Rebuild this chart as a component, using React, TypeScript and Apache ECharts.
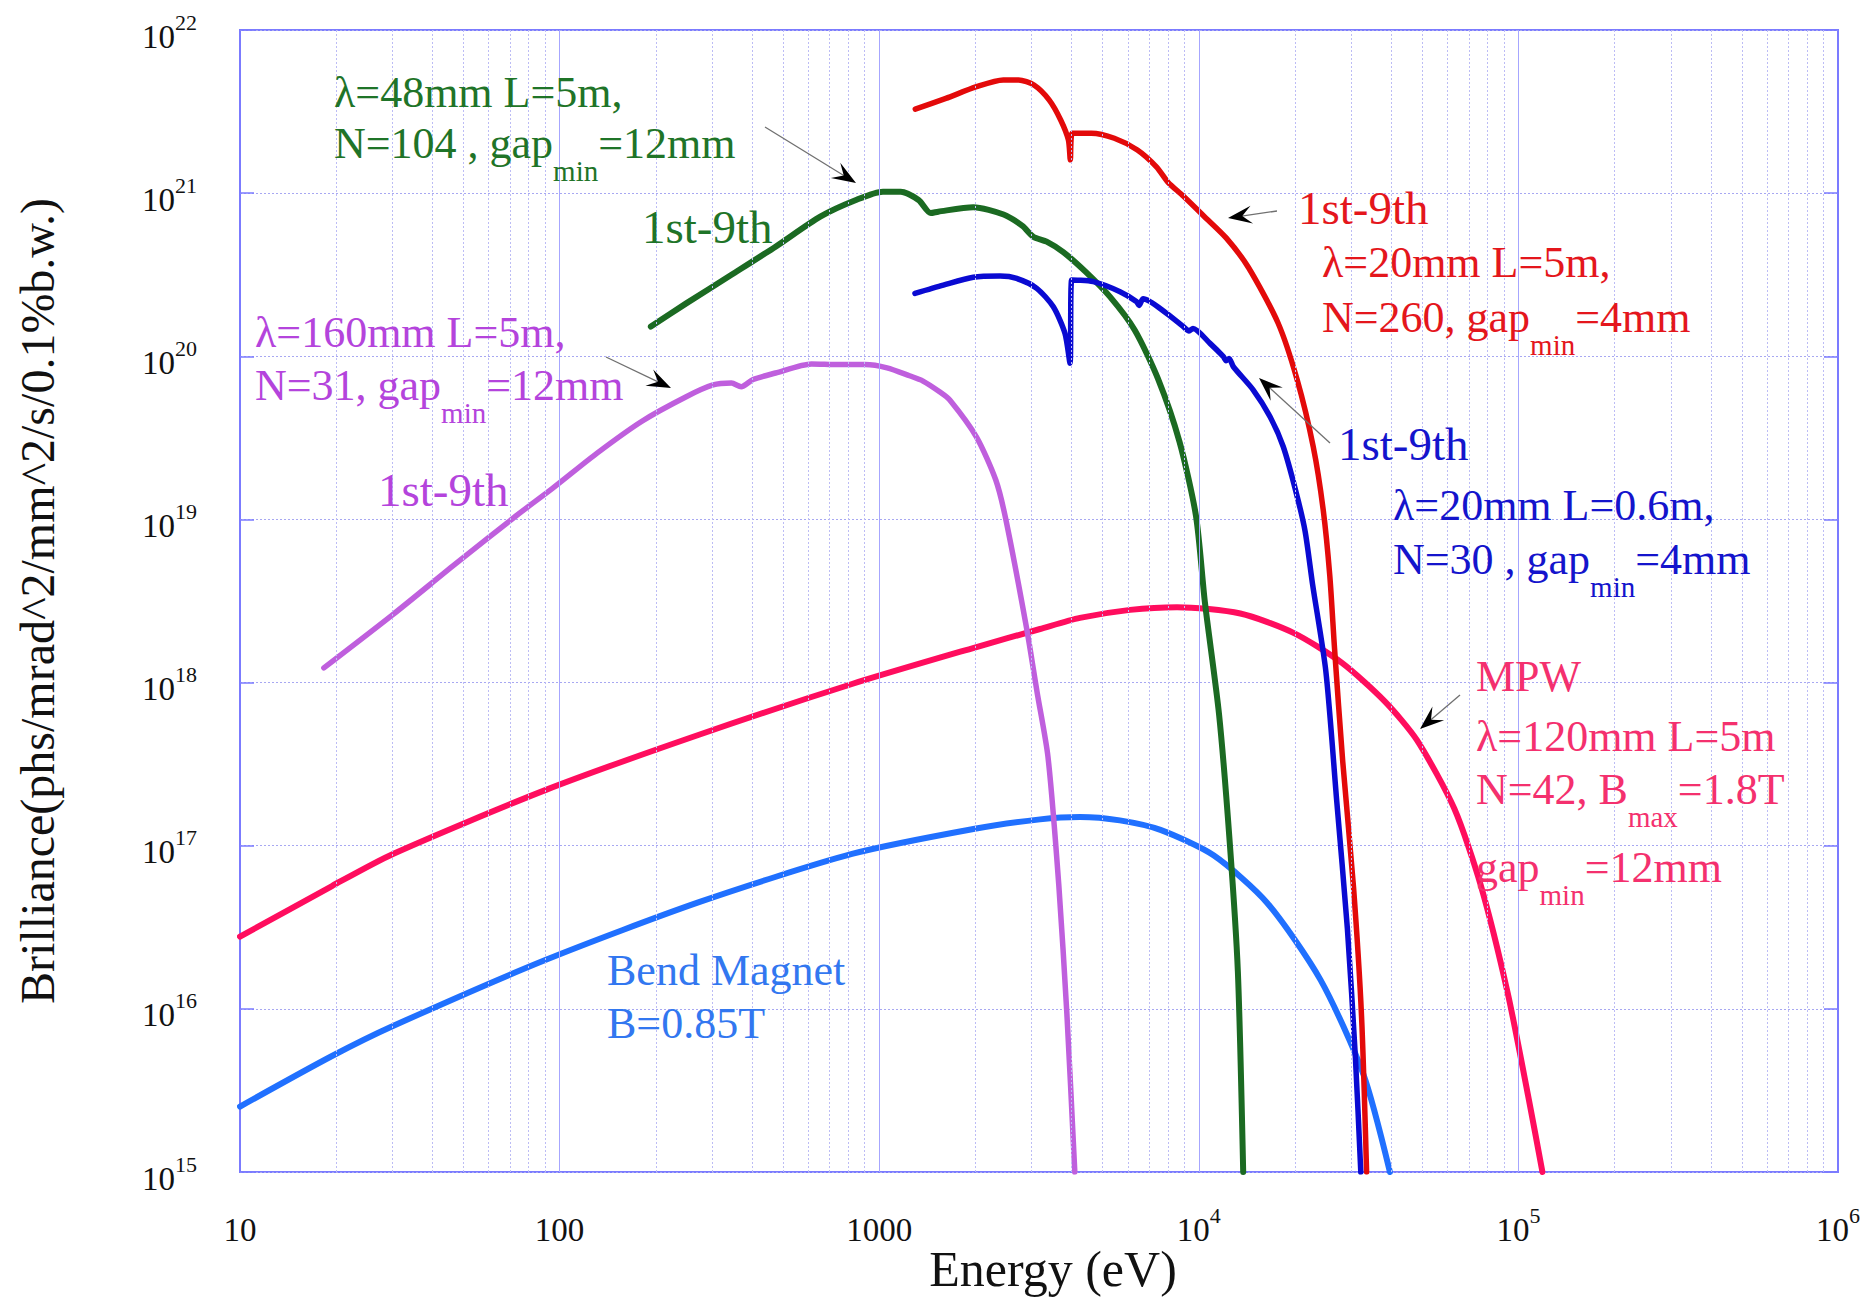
import React, { useEffect, useRef } from 'react';
import * as echarts from 'echarts';

type Pt = [number, number];

const FONT = '"Liberation Serif", "Times New Roman", serif';

// axis range (eV, brilliance)
const X_MIN = 10;
const X_MAX = 1e6;
const Y_MIN = 1e15;
const Y_MAX = 1e22;

// grid positions
const majorX = [100, 1000, 1e4, 1e5];
const minorDecades = [10, 100, 1000, 1e4, 1e5];
const minorMultipliers = [2, 3, 4, 5, 6, 7, 8, 9];

// lambda = 160 mm, L = 5 m, N = 31 (purple)
const und160: Pt[] = [
  [18.3, 1.23e18], [30, 2.6e18], [47, 5.3e18], [73, 1.05e19], [95, 1.55e19], [131, 2.55e19],
  [181, 4.0e19], [249, 5.65e19], [302, 6.67e19], [345, 6.85e19], [370, 6.5e19], [403, 7.2e19],
  [474, 7.9e19], [614, 8.98e19], [743, 8.9e19], [903, 8.9e19], [1058, 8.5e19], [1244, 7.6e19],
  [1371, 7.05e19], [1549, 6.04e19], [1663, 5.4e19], [2016, 3.2e19], [2315, 1.75e19], [2490, 1.0e19],
  [2894, 2.14e18], [3120, 8.7e17], [3374, 3.5e17], [3648, 5.7e16], [3866, 9.3e15], [4093, 1e15],
];

// lambda = 48 mm, L = 5 m, N = 104 (green)
const und48: Pt[] = [
  [193, 1.52e20], [249, 2.11e20], [344, 3.15e20], [474, 4.7e20], [654, 7.18e20], [846, 9.08e20],
  [1027, 1.02e21], [1167, 1.02e21], [1328, 9.08e20], [1450, 7.55e20], [1531, 7.7e20], [1970, 8.2e20],
  [2450, 7.4e20], [2806, 6.3e20], [3034, 5.41e20], [3342, 5.04e20], [3767, 4.35e20], [4420, 3.3e20],
  [5270, 2.32e20], [6300, 1.45e20], [7450, 7.3e19], [8700, 3.0e19], [9800, 1.05e19], [10450, 3.1e18],
  [11570, 6.4e17], [12500, 1.04e17], [13250, 1.7e16], [13770, 1e15],
];

// lambda = 20 mm, L = 5 m, N = 260 (red)
const und20L5: Pt[] = [
  [1297, 3.27e21], [1617, 3.81e21], [2016, 4.49e21], [2445, 4.94e21], [2729, 4.94e21], [3049, 4.6e21],
  [3405, 3.72e21], [3697, 2.81e21], [3908, 2.12e21], [3963, 1.6e21], [4018, 2.33e21], [4610, 2.33e21],
  [5441, 2.17e21], [6424, 1.84e21], [7370, 1.45e21], [8000, 1.17e21], [8940, 9.6e20], [10400, 7.2e20],
  [12200, 5.3e20], [14300, 3.5e20], [17700, 1.6e20], [20300, 7.2e19], [22800, 2.8e19], [24500, 1.15e19],
  [25700, 4.5e18], [26600, 1.6e18], [28200, 3.3e17], [30500, 5.5e16], [32300, 9e15], [33500, 1e15],
];

// lambda = 20 mm, L = 0.6 m, N = 30 (blue)
const und20L06: Pt[] = [
  [1294, 2.43e20], [1587, 2.73e20], [1970, 3.05e20], [2388, 3.1e20], [2692, 3.0e20], [3111, 2.61e20],
  [3506, 2.01e20], [3814, 1.38e20], [3954, 9.06e19], [4003, 2.94e20], [4677, 2.87e20], [5669, 2.49e20],
  [6393, 2.16e20], [6500, 2.05e20], [6700, 2.25e20], [7936, 1.83e20], [8945, 1.52e20], [9320, 1.43e20],
  [9590, 1.48e20], [10840, 1.2e20], [11940, 9.94e19], [12170, 9.4e19], [12440, 9.7e19], [12830, 8.63e19],
  [14810, 6.21e19], [16710, 4.26e19], [18380, 2.79e19], [20100, 1.5e19], [21500, 8.5e18], [22700, 4e18],
  [24980, 1.17e18], [27000, 1.9e17], [29170, 3.1e16], [30890, 5.1e15], [32130, 1e15],
];

// multipole wiggler (crimson)
const mpw: Pt[] = [
  [10, 2.77e16], [19.4, 5.66e16], [30.1, 8.9e16], [90.6, 2.2e17], [273, 4.79e17], [822, 9.8e17],
  [1991, 1.64e18], [3186, 2.13e18], [4246, 2.49e18], [6095, 2.79e18], [8550, 2.9e18], [13490, 2.65e18],
  [19850, 2.01e18], [28050, 1.32e18], [38190, 7.67e17], [48100, 4.45e17], [63000, 1.69e17], [76300, 5.7e16],
  [92600, 1.25e16], [107900, 2.76e15], [118900, 1e15],
];

// bend magnet (light blue)
const bendMagnet: Pt[] = [
  [10, 2.52e15], [19.4, 5.14e15], [30.1, 7.85e15], [90.6, 2.0e16], [273, 4.51e16], [822, 8.9e16],
  [1991, 1.27e17], [3186, 1.45e17], [4246, 1.5e17], [5662, 1.43e17], [7586, 1.25e17], [11150, 8.7e16],
  [16370, 4.46e16], [24060, 1.5e16], [32730, 3.97e15], [39630, 1e15],
];

const C_PURPLE = '#bf5fdd';
const C_GREEN = '#1b6a22';
const C_RED = '#e30a0a';
const C_BLUE = '#0a0ad2';
const C_MPW = '#ff0d5e';
const C_BM = '#2070ff';

const T_PURPLE = '#b444dc';
const T_GREEN = '#1f7428';
const T_RED = '#e4161c';
const T_BLUE = '#1414cc';
const T_MPW = '#f4306e';
const T_BM = '#3277f0';

const annotRich = {
  a: { fontSize: 44, lineHeight: 44, verticalAlign: 'top', fontFamily: FONT },
  s: { fontSize: 29, lineHeight: 64, verticalAlign: 'bottom', fontFamily: FONT },
  h: { fontSize: 47, lineHeight: 47, verticalAlign: 'top', fontFamily: FONT },
};

function txt(x: number, y: number, text: string, color: string) {
  const rich: any = {};
  Object.keys(annotRich).forEach((k) => {
    rich[k] = { ...(annotRich as any)[k], fill: color };
  });
  return {
    type: 'text',
    x,
    y,
    z: 20,
    silent: true,
    style: {
      text,
      fill: color,
      fontFamily: FONT,
      fontSize: 44,
      align: 'left',
      verticalAlign: 'top',
      rich,
    },
  };
}

function arrow(x1: number, y1: number, x2: number, y2: number) {
  const dx = x2 - x1;
  const dy = y2 - y1;
  const len = Math.sqrt(dx * dx + dy * dy);
  const ux = dx / len;
  const uy = dy / len;
  const nx = -uy;
  const ny = ux;
  const L = 24;
  const W = 9;
  return [
    {
      type: 'line',
      z: 19,
      silent: true,
      shape: { x1, y1, x2: x2 - ux * 12, y2: y2 - uy * 12 },
      style: { stroke: '#707070', lineWidth: 1.3 },
    },
    {
      type: 'polygon',
      z: 19,
      silent: true,
      shape: {
        points: [
          [x2, y2],
          [x2 - ux * L + nx * W, y2 - uy * L + ny * W],
          [x2 - ux * L * 0.6, y2 - uy * L * 0.6],
          [x2 - ux * L - nx * W, y2 - uy * L - ny * W],
        ],
      },
      style: { fill: '#000' },
    },
  ];
}

function curve(name: string, data: Pt[], color: string, width: number) {
  return {
    type: 'line',
    name,
    data,
    showSymbol: false,
    symbol: 'none',
    smooth: 0.25,
    silent: true,
    z: 3,
    lineStyle: { color, width, cap: 'round', join: 'round' },
  };
}

function gridLines(name: string, values: number[], color: string, type: any) {
  return {
    type: 'line',
    name,
    data: [[X_MIN, Y_MIN]],
    symbol: 'none',
    silent: true,
    z: 1,
    lineStyle: { width: 0, opacity: 0 },
    markLine: {
      silent: true,
      animation: false,
      symbol: ['none', 'none'],
      label: { show: false },
      emphasis: { disabled: true },
      lineStyle: { color, width: 1, type },
      data: values.map((v) => ({ xAxis: v })),
    },
  };
}

const tickRich = {
  b: { fontSize: 33, lineHeight: 46, verticalAlign: 'bottom', fontFamily: FONT, color: '#111' },
  s: { fontSize: 22, lineHeight: 22, padding: [4, 0, 0, 0], verticalAlign: 'top', fontFamily: FONT, color: '#111' },
};

export default function App() {
  const ref = useRef<HTMLDivElement>(null);

  useEffect(() => {
    if (!ref.current) return;
    const chart = echarts.init(ref.current, undefined, { renderer: 'svg' });

    const minorX: number[] = [];
    minorDecades.forEach((d) => minorMultipliers.forEach((m) => minorX.push(d * m)));

    const option: any = {
      animation: false,
      backgroundColor: '#ffffff',
      textStyle: { fontFamily: FONT },
      tooltip: { show: false },
      axisPointer: { show: false },
      grid: {
        left: 240,
        right: 27,
        top: 30,
        bottom: 129,
        containLabel: false,
        outerBoundsMode: 'none',
        show: true,
        borderColor: '#7b7bff',
        borderWidth: 2,
        backgroundColor: 'transparent',
      },
      xAxis: [
        {
          type: 'log',
          logBase: 10,
          min: X_MIN,
          max: X_MAX,
          splitNumber: 5,
          name: 'Energy (eV)',
          nameLocation: 'middle',
          nameGap: 97,
          nameMoveOverlap: false,
          nameTextStyle: {
            fontFamily: FONT,
            fontSize: 50,
            lineHeight: 50,
            color: '#111',
            verticalAlign: 'middle',
            padding: [0, 0, 0, 28],
          },
          axisLine: { show: false },
          axisTick: { show: false },
          axisPointer: { show: false },
          splitLine: { show: false },
          axisLabel: {
            margin: 28,
            showMinLabel: true,
            showMaxLabel: true,
            formatter: (v: number) => {
              const e = Math.round(Math.log10(v));
              return e < 4 ? `{b|${Math.round(v)}}` : `{b|10}{s|${e}}`;
            },
            rich: tickRich,
          },
        },
      ],
      yAxis: [
        {
          type: 'log',
          logBase: 10,
          min: Y_MIN,
          max: Y_MAX,
          splitNumber: 7,
          name: 'Brilliance(phs/mrad^2/mm^2/s/0.1%b.w.)',
          nameLocation: 'middle',
          nameGap: 203,
          nameMoveOverlap: false,
          nameTextStyle: { fontFamily: FONT, fontSize: 48, color: '#111', verticalAlign: 'middle' },
          axisLine: { show: false },
          axisPointer: { show: false },
          axisTick: { show: true, inside: true, length: 14, lineStyle: { color: '#7b7bff', width: 1.5 } },
          splitLine: { show: true, lineStyle: { color: '#a8a8f2', width: 1, type: [2, 2] } },
          axisLabel: {
            margin: 43,
            showMinLabel: true,
            showMaxLabel: true,
            formatter: (v: number) => `{b|10}{s|${Math.round(Math.log10(v))}}`,
            rich: tickRich,
          },
        },
        {
          type: 'log',
          logBase: 10,
          min: Y_MIN,
          max: Y_MAX,
          splitNumber: 7,
          position: 'right',
          axisLine: { show: false },
          axisLabel: { show: false },
          splitLine: { show: false },
          axisPointer: { show: false },
          axisTick: { show: true, inside: true, length: 14, lineStyle: { color: '#7b7bff', width: 1.5 } },
        },
      ],
      series: [
        gridLines('minor-grid', minorX, '#bcbcf5', [2, 2]),
        gridLines('major-grid', majorX, '#a6a6ff', 'solid'),
        curve('BM', bendMagnet, C_BM, 6),
        curve('MPW', mpw, C_MPW, 6),
        curve('λ=160mm', und160, C_PURPLE, 5.5),
        curve('λ=48mm', und48, C_GREEN, 6),
        curve('λ=20mm L=0.6m', und20L06, C_BLUE, 5.5),
        curve('λ=20mm L=5m', und20L5, C_RED, 5.5),
      ],
      graphic: [
        txt(334, 70, '{a|λ=48mm L=5m,}', T_GREEN),
        txt(334, 121, '{a|N=104 , gap}{s|min}{a|=12mm}', T_GREEN),
        txt(642, 203, '{h|1st-9th}', T_GREEN),

        txt(255, 310, '{a|λ=160mm L=5m,}', T_PURPLE),
        txt(255, 363, '{a|N=31, gap}{s|min}{a|=12mm}', T_PURPLE),
        txt(378, 466, '{h|1st-9th}', T_PURPLE),

        txt(1298, 184, '{h|1st-9th}', T_RED),
        txt(1322, 240, '{a|λ=20mm L=5m,}', T_RED),
        txt(1322, 295, '{a|N=260, gap}{s|min}{a|=4mm}', T_RED),

        txt(1338, 420, '{h|1st-9th}', T_BLUE),
        txt(1393, 483, '{a|λ=20mm L=0.6m,}', T_BLUE),
        txt(1393, 537, '{a|N=30 , gap}{s|min}{a|=4mm}', T_BLUE),

        txt(1476, 654, '{a|MPW}', T_MPW),
        txt(1476, 714, '{a|λ=120mm L=5m}', T_MPW),
        txt(1476, 767, '{a|N=42, B}{s|max}{a|=1.8T}', T_MPW),
        txt(1476, 845, '{a|gap}{s|min}{a|=12mm}', T_MPW),

        txt(607, 948, '{a|Bend Magnet}', T_BM),
        txt(607, 1001, '{a|B=0.85T}', T_BM),

        ...arrow(765, 127, 856, 183),
        ...arrow(606, 357, 671, 388),
        ...arrow(1277, 211, 1228, 218),
        ...arrow(1330, 443, 1259, 378),
        ...arrow(1460, 695, 1420, 729),
      ],
    };

    chart.setOption(option);
    return () => chart.dispose();
  }, []);

  return (
    <div
      ref={ref}
      style={{ position: 'absolute', left: 0, top: 0, width: 1865, height: 1301, background: '#fff' }}
    />
  );
}
